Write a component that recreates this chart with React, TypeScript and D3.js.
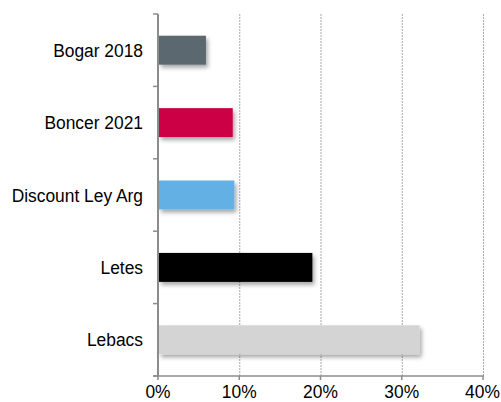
import React, { useEffect, useRef } from 'react';
import * as d3 from 'd3';

const categories = ['Bogar 2018', 'Boncer 2021', 'Discount Ley Arg', 'Letes', 'Lebacs'];
const values = [5.9, 9.2, 9.4, 19.0, 32.2];
const colors = ['#5b6770', '#cc0044', '#63b0e5', '#000000', '#d4d4d4'];
const xTicks = [0, 10, 20, 30, 40];

const App = () => {
  const ref = useRef<SVGSVGElement>(null);

  useEffect(() => {
    const svg = d3.select(ref.current);
    svg.selectAll('*').remove();

    const width = 501;
    const height = 402;
    const margin = { top: 14, right: 18, bottom: 26, left: 158 };
    const font = '"Liberation Sans", Arial, sans-serif';
    const fontSize = 19;
    const squeeze = 0.915; // picture is a bit narrower than tall

    const x = d3.scaleLinear()
      .domain([0, 40])
      .range([margin.left, width - margin.right]);

    const y = d3.scaleBand()
      .domain(categories)
      .range([margin.top, height - margin.bottom])
      .paddingInner(0.6)
      .paddingOuter(0.3);

    const defs = svg.append('defs');
    const filter = defs.append('filter')
      .attr('id', 'shadow')
      .attr('x', '-10%').attr('y', '-30%')
      .attr('width', '130%').attr('height', '190%');
    filter.append('feDropShadow')
      .attr('dx', 2).attr('dy', 3)
      .attr('stdDeviation', 2)
      .attr('flood-color', '#000')
      .attr('flood-opacity', 0.35);

    // gridlines
    svg.append('g')
      .selectAll('line')
      .data(xTicks.slice(1))
      .join('line')
      .attr('x1', d => x(d) + 0.5)
      .attr('x2', d => x(d) + 0.5)
      .attr('y1', margin.top)
      .attr('y2', height - margin.bottom)
      .attr('stroke', '#a8a8a8')
      .attr('stroke-width', 1)
      .attr('stroke-dasharray', '2,1');

    // bars
    svg.append('g')
      .selectAll('rect')
      .data(categories)
      .join('rect')
      .attr('x', x(0) + 1)
      .attr('y', d => y(d)!)
      .attr('width', (d, i) => x(values[i]) - x(0) - 1)
      .attr('height', y.bandwidth())
      .attr('fill', (d, i) => colors[i])
      .attr('filter', 'url(#shadow)');

    // y axis
    const step = (height - margin.bottom - margin.top) / categories.length;
    const yAxis = svg.append('g');
    yAxis.append('line')
      .attr('x1', x(0)).attr('x2', x(0))
      .attr('y1', margin.top).attr('y2', height - margin.bottom)
      .attr('stroke', '#8c8c8c').attr('stroke-width', 2);
    yAxis.selectAll('line.tick')
      .data(d3.range(categories.length + 1))
      .join('line')
      .attr('class', 'tick')
      .attr('x1', x(0) - 5).attr('x2', x(0))
      .attr('y1', i => margin.top + i * step)
      .attr('y2', i => margin.top + i * step)
      .attr('stroke', '#8c8c8c').attr('stroke-width', 1.5);
    yAxis.selectAll('text')
      .data(categories)
      .join('text')
      .attr('transform', d => `translate(${x(0) - 15},${y(d)! + y.bandwidth() / 2}) scale(${squeeze},1)`)
      .attr('dy', '0.35em')
      .attr('text-anchor', 'end')
      .attr('font-family', font)
      .attr('font-size', fontSize)
      .attr('fill', '#000')
      .text(d => d);

    // x axis
    const xAxis = svg.append('g');
    xAxis.append('line')
      .attr('x1', x(0) - 5).attr('x2', x(40) + 1)
      .attr('y1', height - margin.bottom).attr('y2', height - margin.bottom)
      .attr('stroke', '#8c8c8c').attr('stroke-width', 1.5);
    xAxis.selectAll('line.tick')
      .data(xTicks)
      .join('line')
      .attr('class', 'tick')
      .attr('x1', d => x(d)).attr('x2', d => x(d))
      .attr('y1', height - margin.bottom)
      .attr('y2', height - margin.bottom + 4)
      .attr('stroke', '#8c8c8c').attr('stroke-width', 1.5);
    xAxis.selectAll('text')
      .data(xTicks)
      .join('text')
      .attr('transform', d => {
        // keep the last label inside the right edge
        const cx = Math.min(x(d), width - 18.5);
        return `translate(${cx},${height - 4.5}) scale(${squeeze},1)`;
      })
      .attr('text-anchor', 'middle')
      .attr('font-family', font)
      .attr('font-size', fontSize)
      .attr('fill', '#000')
      .text(d => `${d}%`);
  }, []);

  return (
    <svg
      ref={ref}
      width={501}
      height={402}
      style={{ position: 'absolute', left: 0, top: 0, display: 'block' }}
    />
  );
};

export default App;
